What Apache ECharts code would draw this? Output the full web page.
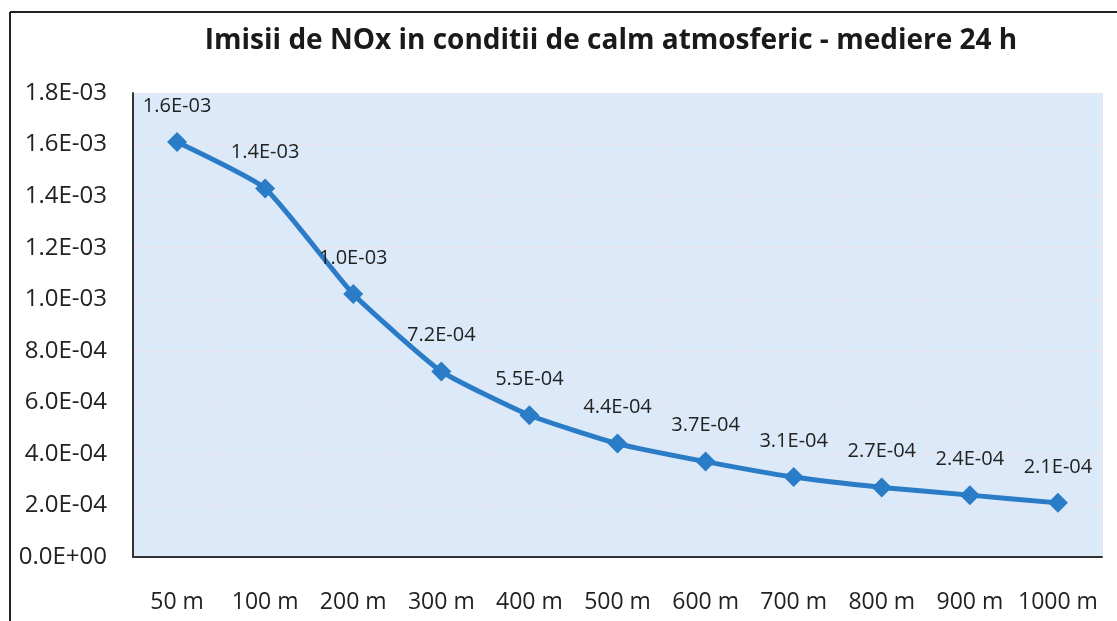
<!DOCTYPE html>
<html>
<head>
<meta charset="utf-8">
<script src="https://cdn.jsdelivr.net/npm/echarts@6/dist/echarts.min.js"></script>
<style>
html,body{margin:0;padding:0;background:#fff;}
#c{width:1117px;height:621px;}
</style>
</head>
<body>
<div id="c"></div>
<script>
var titleText = 'Imisii de NOx in conditii de calm atmosferic - mediere 24 h';
var categories = ['50 m','100 m','200 m','300 m','400 m','500 m','600 m','700 m','800 m','900 m','1000 m'];
var values = [1.61e-3, 1.43e-3, 1.02e-3, 7.2e-4, 5.5e-4, 4.4e-4, 3.7e-4, 3.1e-4, 2.7e-4, 2.4e-4, 2.1e-4];
var yMin = 0, yMax = 1.8e-3, yStep = 2e-4;

function fmt(v){
  if (Math.abs(v) < 1e-12) return '0.0E+00';
  var e = Math.floor(Math.log10(Math.abs(v)));
  var m = v / Math.pow(10, e);
  m = Math.round(m * 10) / 10;
  if (m >= 10) { m /= 10; e++; }
  var a = Math.abs(e);
  return m.toFixed(1) + 'E' + (e < 0 ? '-' : '+') + (a < 10 ? '0' : '') + a;
}

var font = 'Open Sans';
var chart = echarts.init(document.getElementById('c'), null, {renderer:'canvas'});
chart.setOption({
  backgroundColor: '#ffffff',
  animation: false,
  title: {
    text: titleText,
    left: 606, textAlign: 'center', top: 22,
    textStyle: {fontFamily: font, fontSize: 28, fontWeight: 'bold', color: '#1a1a1a'}
  },
  graphic: [
    {type:'line', shape:{x1:10, y1:12, x2:1117, y2:12}, style:{stroke:'#222', lineWidth:2}},
    {type:'line', shape:{x1:10, y1:12, x2:10, y2:621}, style:{stroke:'#222', lineWidth:2}}
  ],
  grid: {left:133, right:15, top:93, bottom:64, show:true, backgroundColor:'#dce9f8', borderWidth:0},
  xAxis: {
    type:'category', data: categories, boundaryGap: true,
    axisLine:{show:true, lineStyle:{color:'#333', width:2}},
    axisTick:{show:false},
    splitLine:{show:true, lineStyle:{color:'#e9e4ee', width:1}},
    axisLabel:{fontFamily:font, fontSize:23, color:'#222', margin:34, interval:0}
  },
  yAxis: {
    type:'value', min:yMin, max:yMax, interval:yStep,
    axisLine:{show:true, lineStyle:{color:'#333', width:2}},
    axisTick:{show:false},
    splitLine:{show:true, lineStyle:{color:'#e9e4ee', width:1}},
    axisLabel:{fontFamily:font, fontSize:24, color:'#222', margin:26, formatter: fmt}
  },
  series: [{
    type:'line', data: values, smooth: 0.15,
    symbol:'diamond', symbolSize:20,
    lineStyle:{color:'#2b7cc7', width:5},
    itemStyle:{color:'#2b7cc7'},
    label:{show:true, position:'top', distance:16, fontFamily:font, fontSize:20, color:'#222',
      formatter: function(p){ return fmt(p.value); }}
  }]
});
</script>
</body>
</html>
